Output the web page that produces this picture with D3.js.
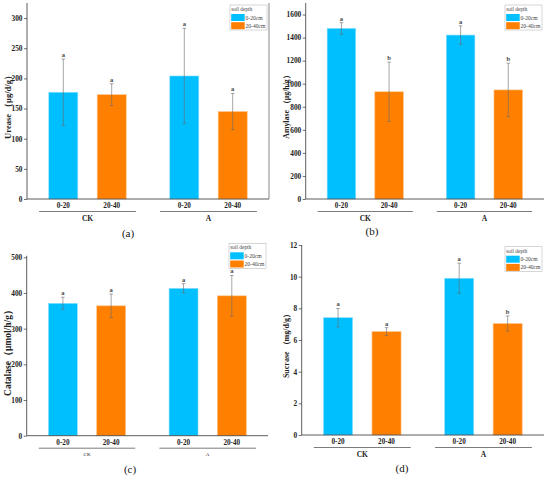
<!DOCTYPE html>
<html>
<head>
<meta charset="utf-8">
<script src="https://cdn.jsdelivr.net/npm/d3@7"></script>
<style>
  body { margin: 0; background: #fff; }
  svg { display: block; font-family: "Liberation Serif", "DejaVu Serif", serif; }
</style>
</head>
<body>
<svg id="chart" width="550" height="478"></svg>
<script>
// ---------- data ----------
const groups = ["CK", "A"];
const depths = ["0-20", "20-40"];
const legendTitle = "soil depth";
const legendLabels = ["0-20cm", "20-40cm"];

// order: CK 0-20, CK 20-40, A 0-20, A 20-40
const ureaseMean = [177, 173, 204, 145];
const ureaseErr  = [55, 18, 79, 30];
const ureaseSig  = ["a", "a", "a", "a"];
const ureaseTicks = [0, 50, 100, 150, 200, 250, 300];

const amylaseMean = [1480, 930, 1422, 946];
const amylaseErr  = [50, 257, 80, 232];
const amylaseSig  = ["a", "b", "a", "b"];
const amylaseTicks = [0, 200, 400, 600, 800, 1000, 1200, 1400, 1600];

const catalaseMean = [371, 364, 413, 392];
const catalaseErr  = [17, 33, 13, 57];
const catalaseSig  = ["a", "a", "a", "a"];
const catalaseTicks = [0, 100, 200, 300, 400, 500];

const sucraseMean = [7.41, 6.53, 9.9, 7.04];
const sucraseErr  = [0.58, 0.25, 0.95, 0.48];
const sucraseSig  = ["a", "a", "a", "b"];
const sucraseTicks = [0, 2, 4, 6, 8, 10, 12];

const colors = ["#00BFFF", "#FF8000"];

// ---------- layout ----------
const panels = [
  { id: "(a)", title: "Urease （μg/d/g）", mean: ureaseMean, err: ureaseErr, sig: ureaseSig, ticks: ureaseTicks, ymax: 325,
    x0: 27, x1: 269, y0: 199, y1: 3, rightLine: true, ylabX: 8, ylabSize: 8.5, groupSize: 7.5, groupBold: true, tagX: 128, tagY: 237, legY: 5 },
  { id: "(b)", title: "Amylase （μg/h/g）", mean: amylaseMean, err: amylaseErr, sig: amylaseSig, ticks: amylaseTicks, ymax: 1700,
    x0: 305.7, x1: 544, y0: 199, y1: 3, rightLine: false, ylabX: 286, ylabSize: 7.8, groupSize: 7.5, groupBold: true, tagX: 372, tagY: 235, legY: 5 },
  { id: "(c)", title: "Catalase（μmol/h/g）", mean: catalaseMean, err: catalaseErr, sig: catalaseSig, ticks: catalaseTicks, ymax: 500,
    x0: 26.7, x1: 268, y0: 435.7, y1: 257.3, rightLine: false, ylabX: 8, ylabSize: 9.5, groupSize: 5, groupBold: false, tagX: 130, tagY: 473, legY: 243.3, axisExtra: 1.5 },
  { id: "(d)", title: "Sucrase （mg/d/g）", mean: sucraseMean, err: sucraseErr, sig: sucraseSig, ticks: sucraseTicks, ymax: 12,
    x0: 301.7, x1: 544, y0: 435, y1: 245, rightLine: false, ylabX: 286, ylabSize: 8, groupSize: 7.5, groupBold: true, tagX: 402, tagY: 472, legY: 246.7 }
];

const svg = d3.select("#chart");

panels.forEach(p => {
  const g = svg.append("g");
  const y = d3.scaleLinear().domain([0, p.ymax]).range([p.y0, p.y1]);
  const xg = d3.scalePoint().domain(groups).range([p.x0, p.x1]).padding(0.5);
  const groupW = xg.step() * 0.8;
  const xi = d3.scaleBand().domain(depths).range([-groupW / 2, groupW / 2]).paddingInner(0.4).paddingOuter(0.2);

  const rows = [];
  groups.forEach((gr, gi) => depths.forEach((d, di) => {
    const k = gi * 2 + di;
    rows.push({ group: gr, depth: d, di, mean: p.mean[k], err: p.err[k], sig: p.sig[k] });
  }));

  // bars
  g.selectAll("rect.bar").data(rows).join("rect")
    .attr("class", "bar")
    .attr("x", d => xg(d.group) + xi(d.depth))
    .attr("width", xi.bandwidth())
    .attr("y", d => y(d.mean))
    .attr("height", d => y(0) - y(d.mean))
    .attr("fill", d => colors[d.di])
    .attr("stroke", d => d.di === 0 ? "#8fe0ff" : "#ffc48a")
    .attr("stroke-width", 0.6);

  // error bars
  const cx = d => xg(d.group) + xi(d.depth) + xi.bandwidth() / 2;
  const eb = g.selectAll("g.eb").data(rows).join("g").attr("class", "eb")
    .attr("stroke", "#6a6a6a").attr("stroke-width", 0.6);
  eb.append("line").attr("x1", cx).attr("x2", cx)
    .attr("y1", d => y(d.mean + d.err)).attr("y2", d => y(d.mean - d.err));
  eb.append("line").attr("x1", d => cx(d) - 1.8).attr("x2", d => cx(d) + 1.8)
    .attr("y1", d => y(d.mean + d.err)).attr("y2", d => y(d.mean + d.err));
  eb.append("line").attr("x1", d => cx(d) - 1.8).attr("x2", d => cx(d) + 1.8)
    .attr("y1", d => y(d.mean - d.err)).attr("y2", d => y(d.mean - d.err));

  // significance letters
  g.selectAll("text.sig").data(rows).join("text")
    .attr("class", "sig")
    .attr("x", cx)
    .attr("y", d => y(d.mean + d.err) - 2)
    .attr("text-anchor", "middle")
    .attr("font-size", 6.5)
    .attr("font-weight", "bold")
    .attr("fill", "#444")
    .text(d => d.sig);

  // y axis
  const yAxis = d3.axisLeft(y).tickValues(p.ticks).tickSize(3).tickPadding(1.5).tickFormat(d3.format("d"));
  const ya = g.append("g").attr("transform", `translate(${p.x0},0)`).call(yAxis);
  ya.select(".domain").remove();
  ya.selectAll("line").attr("stroke", "#333").attr("stroke-width", 0.7);
  ya.selectAll("text").attr("font-size", 7.3).attr("font-weight", "bold").attr("fill", "#222")
    .attr("font-family", "Liberation Serif, serif");
  g.append("line").attr("x1", p.x0).attr("x2", p.x0)
    .attr("y1", p.y0).attr("y2", p.y1 - (p.axisExtra || 0))
    .attr("stroke", "#333").attr("stroke-width", 0.8);
  // bottom axis line
  g.append("line").attr("x1", p.x0).attr("x2", p.x1)
    .attr("y1", p.y0).attr("y2", p.y0)
    .attr("stroke", "#333").attr("stroke-width", 0.8);
  if (p.rightLine) {
    g.append("line").attr("x1", p.x1).attr("x2", p.x1)
      .attr("y1", p.y0).attr("y2", p.y1)
      .attr("stroke", "#555").attr("stroke-width", 0.7);
  }

  // depth labels
  g.selectAll("text.dl").data(rows).join("text")
    .attr("class", "dl")
    .attr("x", cx)
    .attr("y", p.y0 + 9)
    .attr("text-anchor", "middle")
    .attr("font-size", 7.2)
    .attr("font-weight", "bold")
    .attr("fill", "#222")
    .text(d => d.depth);

  // group underline + label
  g.selectAll("line.gu").data(groups).join("line")
    .attr("class", "gu")
    .attr("x1", d => xg(d) - groupW / 2).attr("x2", d => xg(d) + groupW / 2)
    .attr("y1", p.y0 + 12.5).attr("y2", p.y0 + 12.5)
    .attr("stroke", "#444").attr("stroke-width", 0.7);
  g.selectAll("text.gl").data(groups).join("text")
    .attr("class", "gl")
    .attr("x", d => xg(d))
    .attr("y", p.y0 + (p.groupBold ? 22 : 20))
    .attr("text-anchor", "middle")
    .attr("font-size", p.groupSize)
    .attr("font-weight", p.groupBold ? "bold" : "normal")
    .attr("fill", "#222")
    .text(d => d);

  // y title
  g.append("text")
    .attr("transform", `translate(${p.ylabX},${(p.y0 + p.y1) / 2 + 4}) rotate(-90)`)
    .attr("text-anchor", "middle")
    .attr("dominant-baseline", "central")
    .attr("font-size", p.ylabSize)
    .attr("font-weight", "bold")
    .attr("fill", "#222")
    .text(p.title);

  // panel tag
  g.append("text").attr("x", p.tagX).attr("y", p.tagY)
    .attr("text-anchor", "middle").attr("font-size", 11).attr("fill", "#111").text(p.id);

  // legend
  const lw = 37, lh = 25;
  const lx = p.x1 - lw - 2, ly = p.legY;
  const lg = g.append("g").attr("transform", `translate(${lx},${ly})`);
  lg.append("rect").attr("width", lw).attr("height", lh)
    .attr("fill", "#fff").attr("stroke", "#bbb").attr("stroke-width", 0.6);
  lg.append("text").attr("x", 1.2).attr("y", 6).attr("font-size", 5.4).attr("fill", "#444").text(legendTitle);
  lg.selectAll("rect.sw").data(legendLabels).join("rect")
    .attr("class", "sw")
    .attr("x", 1.2).attr("y", (d, i) => 9 + i * 8.2)
    .attr("width", 13.5).attr("height", 7)
    .attr("fill", (d, i) => colors[i]);
  lg.selectAll("text.sl").data(legendLabels).join("text")
    .attr("class", "sl")
    .attr("x", 15.5).attr("y", (d, i) => 14.6 + i * 8.2)
    .attr("font-size", 5.6).attr("fill", "#444")
    .text(d => d);
});
</script>
</body>
</html>
